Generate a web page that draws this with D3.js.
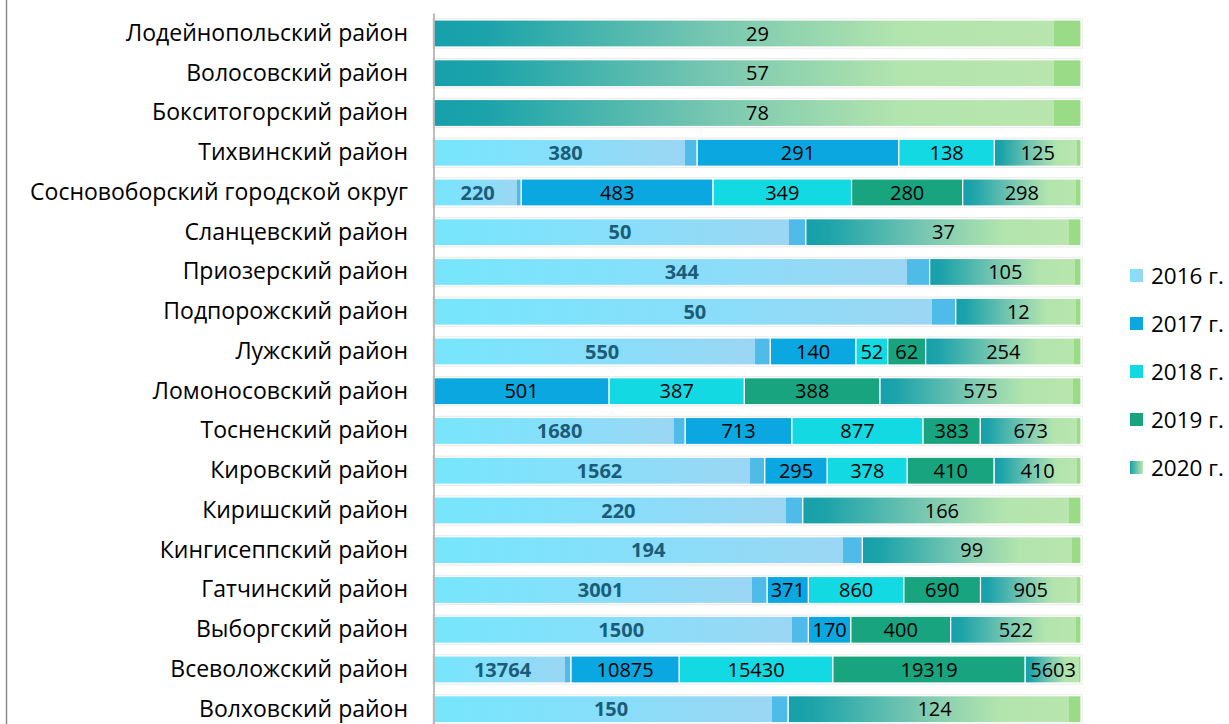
<!DOCTYPE html>
<html>
<head>
<meta charset="utf-8">
<script src="https://cdn.jsdelivr.net/npm/d3@7"></script>
<style>
  body { margin: 0; background: #fff; }
  svg { display: block; }
  text { font-family: "Open Sans", "Noto Sans", sans-serif; }
</style>
</head>
<body>
<script>
var width = 1229,
    height = 724;

// districts, top to bottom
var categories = [
    'Лодейнопольский район',
    'Волосовский район',
    'Бокситогорский район',
    'Тихвинский район',
    'Сосновоборский городской округ',
    'Сланцевский район',
    'Приозерский район',
    'Подпорожский район',
    'Лужский район',
    'Ломоносовский район',
    'Тосненский район',
    'Кировский район',
    'Киришский район',
    'Кингисеппский район',
    'Гатчинский район',
    'Выборгский район',
    'Всеволожский район',
    'Волховский район'
];

var years = ['2016 г.', '2017 г.', '2018 г.', '2019 г.', '2020 г.'];

// null = no value for that year
var v2016 = [null, null, null, 380, 220, 50, 344, 50, 550, null, 1680, 1562, 220, 194, 3001, 1500, 13764, 150];
var v2017 = [null, null, null, 291, 483, null, null, null, 140, 501, 713, 295, null, null, 371, 170, 10875, null];
var v2018 = [null, null, null, 138, 349, null, null, null, 52, 387, 877, 378, null, null, 860, null, 15430, null];
var v2019 = [null, null, null, null, 280, null, null, null, 62, 388, 383, 410, null, null, 690, 400, 19319, null];
var v2020 = [29, 57, 78, 125, 298, 37, 105, 12, 254, 575, 673, 410, 166, 99, 905, 522, 5603, 124];

var series = [v2016, v2017, v2018, v2019, v2020];

var fills = ['url(#g2016)', '#0ba7e0', '#13d9e3', '#18a47f', 'url(#g2020)'];

var rows = categories.map(function (c, i) {
    var r = { name: c };
    years.forEach(function (y, k) { r[y] = series[k][i]; });
    return r;
});

var svg = d3.select('body').append('svg')
    .attr('width', width)
    .attr('height', height);

var defs = svg.append('defs');

function addGradient(id, stops) {
    var g = defs.append('linearGradient')
        .attr('id', id)
        .attr('x1', 0).attr('x2', 1).attr('y1', 0).attr('y2', 0);
    stops.forEach(function (s) {
        g.append('stop').attr('offset', s[0]).attr('stop-color', s[1]);
    });
}

addGradient('g2016', [[0, '#76e6fd'], [0.5, '#88defa'], [0.955, '#9bd6f3'], [0.955, '#4fbbe9'], [1, '#4fbbe9']]);
addGradient('g2020', [[0, '#16a0ab'], [0.08, '#1ca3aa'], [0.45, '#7cc9b1'], [0.72, '#b2e4ad'], [0.958, '#b8e6ad'], [0.958, '#99db86'], [1, '#99db86']]);
addGradient('g2016leg', [[0, '#80e2fb'], [1, '#9ad6f2']]);
addGradient('g2020leg', [[0, '#16a0ab'], [1, '#b8e6ad']]);

var x = d3.scaleLinear()
    .domain([0, 1])
    .range([434, 1081]);

var y = d3.scaleBand()
    .domain(categories)
    .range([13.6, 729.1])
    .paddingInner(0.32)
    .paddingOuter(0.16);

var stack = d3.stack()
    .keys(years)
    .value(function (d, key) { return d[key] || 0; })
    .offset(d3.stackOffsetExpand);

var stacked = stack(rows);

// chart frame on the left
svg.append('line')
    .attr('x1', 6.5).attr('x2', 6.5)
    .attr('y1', 0).attr('y2', height)
    .attr('stroke', '#8c8c8c')
    .attr('stroke-width', 1.5);

// faint outline round each bar
svg.append('g').selectAll('rect')
    .data(rows)
    .enter().append('rect')
    .attr('x', x(0) - 1)
    .attr('y', function (d) { return y(d.name) - 1; })
    .attr('width', x(1) - x(0) + 2)
    .attr('height', y.bandwidth() + 2)
    .attr('fill', 'none')
    .attr('stroke', '#ececec')
    .attr('stroke-width', 1.5);

var layer = svg.append('g').selectAll('g')
    .data(stacked)
    .enter().append('g')
    .attr('fill', function (d, i) { return fills[i]; });

layer.selectAll('rect')
    .data(function (d) { return d.filter(function (p) { return p.data[d.key] != null; }); })
    .enter().append('rect')
    .attr('x', function (d) { return x(d[0]); })
    .attr('y', function (d) { return y(d.data.name); })
    .attr('width', function (d) { return x(d[1]) - x(d[0]); })
    .attr('height', y.bandwidth())
    .attr('stroke', '#fff')
    .attr('stroke-width', 1.2);

// value labels
var labels = svg.append('g');
stacked.forEach(function (s, i) {
    labels.selectAll('text.s' + i)
        .data(s.filter(function (p) { return p.data[s.key] != null; }))
        .enter().append('text')
        .attr('class', 's' + i)
        .attr('x', function (d) { return (x(d[0]) + x(d[1])) / 2; })
        .attr('y', function (d) { return y(d.data.name) + y.bandwidth() / 2; })
        .attr('dy', '0.36em')
        .attr('text-anchor', 'middle')
        .attr('font-size', 20)
        .attr('font-weight', i === 0 ? 'bold' : 'normal')
        .attr('fill', i === 0 ? '#1b5d78' : '#000')
        .text(function (d) { return d.data[s.key]; });
});

// category axis
var axis = svg.append('g')
    .attr('transform', 'translate(' + x(0) + ',0)')
    .call(d3.axisLeft(y).tickSize(0).tickPadding(26));

axis.select('.domain')
    .attr('stroke', '#a6a6a6')
    .attr('stroke-width', 1.5)
    .attr('d', 'M0,' + y.range()[0] + 'V' + y.range()[1]);

axis.selectAll('text')
    .attr('font-family', '"Open Sans", sans-serif')
    .attr('font-size', 23)
    .attr('fill', '#000');

// legend
var legend = svg.append('g').selectAll('g')
    .data(years)
    .enter().append('g')
    .attr('transform', function (d, i) { return 'translate(1130,' + (275.5 + i * 48) + ')'; });

legend.append('rect')
    .attr('x', 0)
    .attr('y', -6.5)
    .attr('width', 13)
    .attr('height', 13)
    .attr('fill', function (d, i) {
        return i === 0 ? 'url(#g2016leg)' : i === 4 ? 'url(#g2020leg)' : fills[i];
    });

legend.append('text')
    .attr('x', 21)
    .attr('dy', '0.36em')
    .attr('font-size', 22.5)
    .attr('fill', '#000')
    .text(function (d) { return d; });
</script>
</body>
</html>
